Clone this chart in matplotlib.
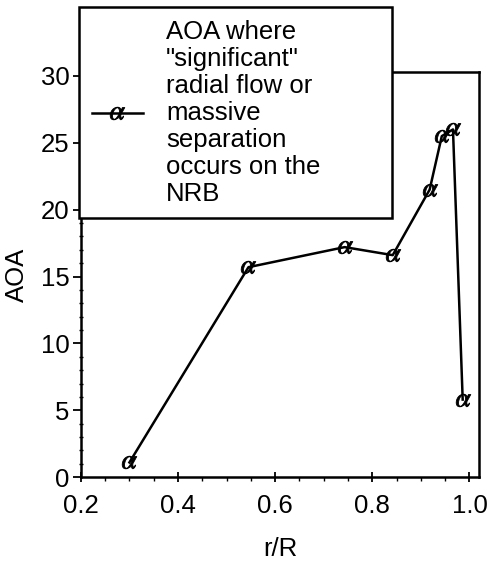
import matplotlib
matplotlib.use("Agg")
import matplotlib.pyplot as plt
from matplotlib.ticker import MultipleLocator

plt.rcParams['font.family'] = ['Liberation Sans', 'DejaVu Sans']
plt.rcParams['mathtext.fontset'] = 'stix'

# data
r_over_R = [0.30, 0.545, 0.743, 0.842, 0.918, 0.943, 0.966, 0.986]
aoa = [1.1, 15.7, 17.2, 16.6, 21.5, 25.5, 26.0, 5.8]
series_label = ('AOA where\n"significant"\nradial flow or\nmassive\n'
                'separation\noccurs on the\nNRB')
x_ticks = [0.2, 0.4, 0.6, 0.8, 1.0]
x_ticklabels = ['0.2', '0.4', '0.6', '0.8', '1.0']
y_ticks = [0, 5, 10, 15, 20, 25, 30]

fs = 18.5

fig = plt.figure(figsize=(4.87, 5.62), dpi=100)
ax = fig.add_axes([0.166, 0.151, 0.818, 0.721])

ax.plot(r_over_R, aoa, color='black', lw=1.8, marker=r'$\alpha$',
        markersize=10.5, markeredgewidth=0.6, label=series_label)

ax.set_xlim(0.2, 1.02)
ax.set_ylim(0, 30.3)
ax.set_xticks(x_ticks)
ax.set_xticklabels(x_ticklabels)
ax.set_yticks(y_ticks)
ax.xaxis.set_minor_locator(MultipleLocator(0.05))
ax.yaxis.set_minor_locator(MultipleLocator(1))
ax.tick_params(axis='y', which='major', direction='out', length=6, width=1.3,
               labelsize=fs, pad=2)
ax.tick_params(axis='y', which='minor', direction='inout', length=3, width=1)
ax.tick_params(axis='x', which='major', direction='inout', length=7, width=1.3,
               labelsize=fs, pad=9)
ax.tick_params(axis='x', which='minor', direction='out', length=3, width=1)
ax.tick_params(which='both', top=False, right=False)
for s in ax.spines.values():
    s.set_linewidth(1.8)

ax.set_xlabel('r/R', fontsize=fs, labelpad=13)
ax.set_ylabel('AOA', fontsize=fs, labelpad=9)

leg = ax.legend(loc='upper left', bbox_to_anchor=(-0.005, 0.5, 0.786, 0.66),
                mode='expand', fontsize=fs, frameon=True, fancybox=False,
                handlelength=2.0, handletextpad=0.9, borderpad=0.5,
                borderaxespad=0, labelspacing=0)
leg.get_frame().set_edgecolor('black')
leg.get_frame().set_linewidth(1.8)
leg.get_frame().set_alpha(1)
for t in leg.get_texts():
    t.set_linespacing(1.155)
leg.set_zorder(5)

fig.savefig('out.png', dpi=100)
